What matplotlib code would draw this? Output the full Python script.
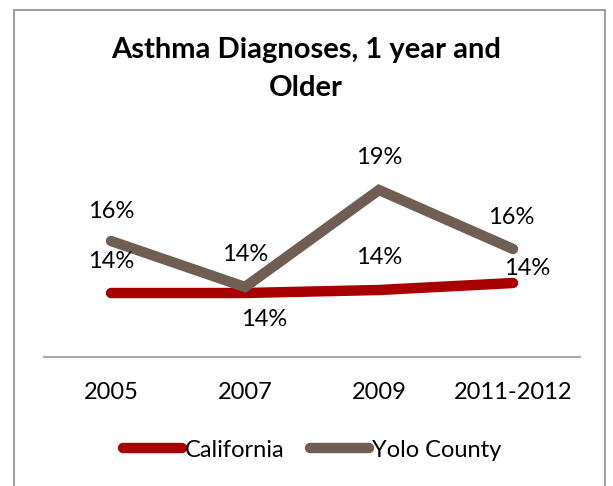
import matplotlib.pyplot as plt
from matplotlib.patches import Rectangle

plt.rcParams['font.family'] = ['Lato', 'DejaVu Sans']

# Dati
anni = ["2005", "2007", "2009", "2011-2012"]
california = [0.138, 0.138, 0.1395, 0.143]
yolo = [0.164, 0.141, 0.1895, 0.160]

# offset etichette (pixel)
off_california = [(0, 32), (19, -27), (0, 32), (14, 15)]
off_yolo = [(0, 30), (0, 33), (0, 33), (-2, 32)]

col_cal = "#A80000"
col_yolo = "#705E55"

fig = plt.figure(figsize=(6.13, 4.86), dpi=100)
W, H = 613, 486
ax = fig.add_axes([44 / W, 129 / H, 536 / W, 207 / H])

x = range(len(anni))
ax.plot(x, california, color=col_cal, lw=7.5, solid_capstyle="round", label="California")
ax.plot(x, yolo, color=col_yolo, lw=7.5, solid_capstyle="round", solid_joinstyle="miter", label="Yolo County")

for i, v in enumerate(california):
    ax.annotate(f"{v:.0%}", (i, v), xytext=off_california[i], textcoords="offset pixels",
                ha="center", va="center", fontsize=17)
for i, v in enumerate(yolo):
    ax.annotate(f"{v:.0%}", (i, v), xytext=off_yolo[i], textcoords="offset pixels",
                ha="center", va="center", fontsize=17)

ax.set_xlim(-0.5, len(anni) - 0.5)
ax.set_ylim(0.106, 0.2095)
ax.set_xticks(list(x))
ax.set_xticklabels(anni, fontsize=17)
ax.tick_params(axis="x", length=0, pad=18)
ax.set_yticks([])
for s in ["top", "right", "left"]:
    ax.spines[s].set_visible(False)
ax.spines["bottom"].set_color("#A0A0A0")
ax.spines["bottom"].set_linewidth(1.3)

fig.text(306 / W, 1 - 50 / H, "Asthma Diagnoses, 1 year and", ha="center", va="center",
         fontsize=21, fontweight="bold")
fig.text(306 / W, 1 - 88 / H, "Older", ha="center", va="center",
         fontsize=21, fontweight="bold")

fig.legend(loc="center", bbox_to_anchor=(312 / W, 1 - 450 / H), ncol=2, frameon=False,
           fontsize=17, handlelength=2.5, handletextpad=0.1, columnspacing=1.1)

fig.patches.append(Rectangle((14 / W, -10 / H), 591 / W, 486 / H, transform=fig.transFigure,
                             fill=False, edgecolor="#8C8C8C", lw=1.2))

fig.savefig("out.png", dpi=100)
